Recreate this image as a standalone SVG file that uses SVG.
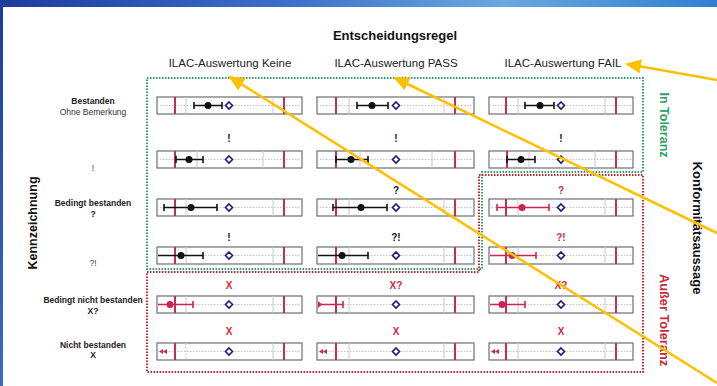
<svg xmlns="http://www.w3.org/2000/svg" width="717" height="386" viewBox="0 0 717 386">
<style>
text{font-family:"Liberation Sans",Arial,sans-serif;}
.title{font-size:13px;font-weight:bold;fill:#111;text-anchor:middle;}
.hdr{font-size:11.5px;fill:#222;text-anchor:middle;}
.rl{font-size:8.5px;font-weight:bold;fill:#222;text-anchor:middle;}
.rln{font-size:8.5px;fill:#333;text-anchor:middle;}
.cl{font-size:10px;font-weight:bold;fill:#111;text-anchor:middle;}
.clr{font-size:10px;font-weight:bold;fill:#d42a3a;text-anchor:middle;}
.cell{fill:#fff;stroke:#6e6e6e;stroke-width:1.2;}
.mid{stroke:#b4b4b4;stroke-width:0.8;stroke-dasharray:1.5 1.5;}
.gv{stroke:#c8c8c8;stroke-width:1;}
.lim{stroke:#c42e55;stroke-width:2;}
.bar{stroke:#111;stroke-width:1.6;fill:none;}
.barr{stroke:#d0234d;stroke-width:1.6;fill:none;}
.dot{fill:#111;}
.dotr{fill:#d0234d;}
.dia{fill:#fff;stroke:#1c1c80;stroke-width:1.6;}
.arr{stroke:#ffc000;stroke-width:2.5;fill:none;}
</style>
<defs>
<linearGradient id="bg" x1="0" y1="0" x2="1" y2="0">
<stop offset="0" stop-color="#1d3c9c"/>
<stop offset="0.4" stop-color="#3d6fc8"/>
<stop offset="0.7" stop-color="#6aa8e0"/>
<stop offset="1" stop-color="#2f7fd0"/>
</linearGradient>
<linearGradient id="lg" x1="0" y1="0" x2="0" y2="1">
<stop offset="0" stop-color="#1d3c9c"/>
<stop offset="1" stop-color="#3b6bc4"/>
</linearGradient>
<marker id="ah" viewBox="0 0 16 14" refX="14" refY="7" markerWidth="16" markerHeight="14" markerUnits="userSpaceOnUse" orient="auto"><path d="M0,0 L16,7 L0,14 Z" fill="#ffc000"/></marker>
</defs>
<rect x="0" y="0" width="717" height="386" fill="#fff"/>
<rect x="0" y="0" width="717" height="7" fill="url(#bg)"/>
<rect x="0" y="0" width="3" height="386" fill="url(#lg)"/>

<g id="header">
<text class="title" x="395" y="40">Entscheidungsregel</text>
<text class="hdr" x="230" y="67">ILAC-Auswertung Keine</text>
<text class="hdr" x="396" y="67">ILAC-Auswertung PASS</text>
<text class="hdr" x="563" y="67">ILAC-Auswertung FAIL</text>
</g>

<g id="side-labels">
<text x="0" y="0" transform="translate(37,223) rotate(-90)" style="font-size:12.5px;font-weight:bold;fill:#111;text-anchor:middle">Kennzeichnung</text>
<text x="0" y="0" transform="translate(660,125) rotate(90)" style="font-size:12.5px;font-weight:bold;fill:#2e9e62;text-anchor:middle">In Toleranz</text>
<text x="0" y="0" transform="translate(660,320) rotate(90)" style="font-size:12.8px;font-weight:bold;fill:#c8283a;text-anchor:middle">Außer Toleranz</text>
<text x="0" y="0" transform="translate(693,228) rotate(90)" style="font-size:13px;font-weight:bold;fill:#111;text-anchor:middle">Konformitätsaussage</text>
</g>

<g id="row-labels">
<text class="rl" x="93" y="104">Bestanden</text>
<text class="rln" x="93" y="115">Ohne Bemerkung</text>
<text class="rln" x="93" y="171">!</text>
<text class="rl" x="93" y="206">Bedingt bestanden</text>
<text class="rl" x="93" y="217">?</text>
<text class="rln" x="93" y="266">?!</text>
<text class="rl" x="93" y="303">Bedingt nicht bestanden</text>
<text class="rl" x="93" y="314">X?</text>
<text class="rl" x="93" y="348">Nicht bestanden</text>
<text class="rl" x="93" y="358">X</text>
</g>

<g id="zones">
<path d="M147,78 H643 V172 H482 V269 H147 Z" fill="none" stroke="#2e9e6b" stroke-width="2" stroke-dasharray="1.5 1.5"/>
<path d="M147,272 H479 V175 H643 V372 H147 Z" fill="none" stroke="#c0282d" stroke-width="2" stroke-dasharray="1.5 1.5"/>
</g>

<!-- Row 1 -->
<g id="r1-keine">
<rect class="cell" x="157" y="97" width="145" height="17"/>
<line class="mid" x1="157" y1="105.5" x2="302" y2="105.5"/>
<line class="gv" x1="186" y1="97" x2="186" y2="114"/><line class="gv" x1="273" y1="97" x2="273" y2="114"/>
<line class="lim" x1="175" y1="97" x2="175" y2="114"/><line class="lim" x1="284" y1="97" x2="284" y2="114"/>
<path class="bar" d="M194,105.5 H222 M194,102 V109 M222,102 V109"/><circle class="dot" cx="208" cy="105.5" r="3.5"/>
<path class="dia" d="M229,102 L232.5,105.5 L229,109 L225.5,105.5 Z"/>
</g>
<g id="r1-pass">
<rect class="cell" x="317" y="97" width="157" height="17"/>
<line class="mid" x1="317" y1="105.5" x2="474" y2="105.5"/>
<line class="gv" x1="349" y1="97" x2="349" y2="114"/><line class="gv" x1="444" y1="97" x2="444" y2="114"/>
<line class="lim" x1="336" y1="97" x2="336" y2="114"/><line class="lim" x1="455" y1="97" x2="455" y2="114"/>
<path class="bar" d="M357,105.5 H388 M357,102 V109 M388,102 V109"/><circle class="dot" cx="372" cy="105.5" r="3.5"/>
<path class="dia" d="M396,102 L399.5,105.5 L396,109 L392.5,105.5 Z"/>
</g>
<g id="r1-fail">
<rect class="cell" x="489" y="97" width="144" height="17"/>
<line class="mid" x1="489" y1="105.5" x2="633" y2="105.5"/>
<line class="gv" x1="518" y1="97" x2="518" y2="114"/><line class="gv" x1="605" y1="97" x2="605" y2="114"/>
<line class="lim" x1="506" y1="97" x2="506" y2="114"/><line class="lim" x1="616" y1="97" x2="616" y2="114"/>
<path class="bar" d="M525,105.5 H554 M525,102 V109 M554,102 V109"/><circle class="dot" cx="540" cy="105.5" r="3.5"/>
<path class="dia" d="M561,102 L564.5,105.5 L561,109 L557.5,105.5 Z"/>
</g>

<!-- Row 2 -->
<g id="r2-keine">
<text class="cl" x="229" y="142">!</text>
<rect class="cell" x="157" y="151" width="145" height="17"/>
<line class="mid" x1="157" y1="159.5" x2="302" y2="159.5"/>
<line class="gv" x1="197" y1="151" x2="197" y2="168"/><line class="gv" x1="263" y1="151" x2="263" y2="168"/>
<line class="lim" x1="175" y1="151" x2="175" y2="168"/><line class="lim" x1="284" y1="151" x2="284" y2="168"/>
<path class="bar" d="M176,159.5 H203 M176,156 V163 M203,156 V163"/><circle class="dot" cx="189" cy="159.5" r="3.5"/>
<path class="dia" d="M229,156 L232.5,159.5 L229,163 L225.5,159.5 Z"/>
</g>
<g id="r2-pass">
<text class="cl" x="396" y="142">!</text>
<rect class="cell" x="317" y="151" width="157" height="17"/>
<line class="mid" x1="317" y1="159.5" x2="474" y2="159.5"/>
<line class="gv" x1="360" y1="151" x2="360" y2="168"/><line class="gv" x1="432" y1="151" x2="432" y2="168"/>
<line class="lim" x1="336" y1="151" x2="336" y2="168"/><line class="lim" x1="455" y1="151" x2="455" y2="168"/>
<path class="bar" d="M336,159.5 H368 M336,156 V163 M368,156 V163"/><circle class="dot" cx="351" cy="159.5" r="3.5"/>
<path class="dia" d="M396,156 L399.5,159.5 L396,163 L392.5,159.5 Z"/>
</g>
<g id="r2-fail">
<text class="cl" x="561" y="142">!</text>
<rect class="cell" x="489" y="151" width="144" height="17"/>
<line class="mid" x1="489" y1="159.5" x2="633" y2="159.5"/>
<line class="gv" x1="529" y1="151" x2="529" y2="168"/><line class="gv" x1="595" y1="151" x2="595" y2="168"/>
<line class="lim" x1="507" y1="151" x2="507" y2="168"/><line class="lim" x1="616" y1="151" x2="616" y2="168"/>
<path class="bar" d="M507,159.5 H535 M507,156 V163 M535,156 V163"/><circle class="dot" cx="521" cy="159.5" r="3.5"/>
<path class="dia" d="M561,156 L564.5,159.5 L561,163 L557.5,159.5 Z"/>
</g>

<!-- Row 3 -->
<g id="r3-keine">
<rect class="cell" x="157" y="199" width="145" height="17"/>
<line class="mid" x1="157" y1="207.5" x2="302" y2="207.5"/>
<line class="gv" x1="186" y1="199" x2="186" y2="216"/><line class="gv" x1="273" y1="199" x2="273" y2="216"/>
<line class="lim" x1="175" y1="199" x2="175" y2="216"/><line class="lim" x1="284" y1="199" x2="284" y2="216"/>
<path class="bar" d="M164,207.5 H217 M164,204 V211 M217,204 V211"/><circle class="dot" cx="191" cy="207.5" r="3.5"/>
<path class="dia" d="M229,204 L232.5,207.5 L229,211 L225.5,207.5 Z"/>
</g>
<g id="r3-pass">
<text class="cl" x="396" y="194">?</text>
<rect class="cell" x="317" y="199" width="157" height="17"/>
<line class="mid" x1="317" y1="207.5" x2="474" y2="207.5"/>
<line class="gv" x1="349" y1="199" x2="349" y2="216"/><line class="gv" x1="444" y1="199" x2="444" y2="216"/>
<line class="lim" x1="336" y1="199" x2="336" y2="216"/><line class="lim" x1="455" y1="199" x2="455" y2="216"/>
<path class="bar" d="M333,207.5 H387 M333,204 V211 M387,204 V211"/><circle class="dot" cx="361" cy="207.5" r="3.5"/>
<path class="dia" d="M396,204 L399.5,207.5 L396,211 L392.5,207.5 Z"/>
</g>
<g id="r3-fail">
<text class="clr" x="561" y="194">?</text>
<rect class="cell" x="489" y="199" width="144" height="17"/>
<line class="mid" x1="489" y1="207.5" x2="633" y2="207.5"/>
<line class="gv" x1="518" y1="199" x2="518" y2="216"/><line class="gv" x1="605" y1="199" x2="605" y2="216"/>
<line class="lim" x1="506" y1="199" x2="506" y2="216"/><line class="lim" x1="616" y1="199" x2="616" y2="216"/>
<path class="barr" d="M497,207.5 H549 M497,204 V211 M549,204 V211"/><circle class="dotr" cx="522" cy="207.5" r="3.5"/>
<path class="dia" d="M561,204 L564.5,207.5 L561,211 L557.5,207.5 Z"/>
</g>

<!-- Row 4 -->
<g id="r4-keine">
<text class="cl" x="229" y="241">!</text>
<rect class="cell" x="157" y="247" width="145" height="17"/>
<line class="mid" x1="157" y1="255.5" x2="302" y2="255.5"/>
<line class="gv" x1="186" y1="247" x2="186" y2="264"/><line class="gv" x1="273" y1="247" x2="273" y2="264"/>
<line class="lim" x1="175" y1="247" x2="175" y2="264"/><line class="lim" x1="284" y1="247" x2="284" y2="264"/>
<path class="bar" d="M158,255.5 H203 M203,252 V259"/><circle class="dot" cx="181" cy="255.5" r="3.5"/>
<path class="dia" d="M229,252 L232.5,255.5 L229,259 L225.5,255.5 Z"/>
</g>
<g id="r4-pass">
<text class="cl" x="396" y="241">?!</text>
<rect class="cell" x="317" y="247" width="157" height="17"/>
<line class="mid" x1="317" y1="255.5" x2="474" y2="255.5"/>
<line class="gv" x1="349" y1="247" x2="349" y2="264"/><line class="gv" x1="444" y1="247" x2="444" y2="264"/>
<line class="lim" x1="336" y1="247" x2="336" y2="264"/><line class="lim" x1="455" y1="247" x2="455" y2="264"/>
<path class="bar" d="M318,255.5 H368 M368,252 V259"/><circle class="dot" cx="342" cy="255.5" r="3.5"/>
<path class="dia" d="M396,252 L399.5,255.5 L396,259 L392.5,255.5 Z"/>
</g>
<g id="r4-fail">
<text class="clr" x="561" y="241">?!</text>
<rect class="cell" x="489" y="247" width="144" height="17"/>
<line class="mid" x1="489" y1="255.5" x2="633" y2="255.5"/>
<line class="gv" x1="518" y1="247" x2="518" y2="264"/><line class="gv" x1="605" y1="247" x2="605" y2="264"/>
<line class="lim" x1="506" y1="247" x2="506" y2="264"/><line class="lim" x1="616" y1="247" x2="616" y2="264"/>
<path class="barr" d="M490,255.5 H536 M536,252 V259"/><circle class="dotr" cx="512" cy="255.5" r="3.5"/>
<path class="dia" d="M561,252 L564.5,255.5 L561,259 L557.5,255.5 Z"/>
</g>

<!-- Row 5 -->
<g id="r5-keine">
<text class="clr" x="229" y="289">X</text>
<rect class="cell" x="157" y="296" width="145" height="17"/>
<line class="mid" x1="157" y1="304.5" x2="302" y2="304.5"/>
<line class="gv" x1="186" y1="296" x2="186" y2="313"/><line class="gv" x1="273" y1="296" x2="273" y2="313"/>
<line class="lim" x1="175" y1="296" x2="175" y2="313"/><line class="lim" x1="284" y1="296" x2="284" y2="313"/>
<path class="barr" d="M158,304.5 H193 M193,301 V308"/><circle class="dotr" cx="170" cy="304.5" r="3.5"/>
<path class="dia" d="M229,301 L232.5,304.5 L229,308 L225.5,304.5 Z"/>
</g>
<g id="r5-pass">
<text class="clr" x="396" y="289">X?</text>
<rect class="cell" x="317" y="296" width="157" height="17"/>
<line class="mid" x1="317" y1="304.5" x2="474" y2="304.5"/>
<line class="gv" x1="349" y1="296" x2="349" y2="313"/><line class="gv" x1="444" y1="296" x2="444" y2="313"/>
<line class="lim" x1="336" y1="296" x2="336" y2="313"/><line class="lim" x1="455" y1="296" x2="455" y2="313"/>
<path class="barr" d="M318,304.5 H343 M343,301 V308"/><path class="dotr" d="M318,301 L322,304.5 L318,308 Z"/>
<path class="dia" d="M396,301 L399.5,304.5 L396,308 L392.5,304.5 Z"/>
</g>
<g id="r5-fail">
<text class="clr" x="561" y="289">X?</text>
<rect class="cell" x="489" y="296" width="144" height="17"/>
<line class="mid" x1="489" y1="304.5" x2="633" y2="304.5"/>
<line class="gv" x1="518" y1="296" x2="518" y2="313"/><line class="gv" x1="605" y1="296" x2="605" y2="313"/>
<line class="lim" x1="506" y1="296" x2="506" y2="313"/><line class="lim" x1="616" y1="296" x2="616" y2="313"/>
<path class="barr" d="M490,304.5 H525 M525,301 V308"/><circle class="dotr" cx="502" cy="304.5" r="3.5"/>
<path class="dia" d="M561,301 L564.5,304.5 L561,308 L557.5,304.5 Z"/>
</g>

<!-- Row 6 -->
<g id="r6-keine">
<text class="clr" x="229" y="335">X</text>
<rect class="cell" x="157" y="343" width="145" height="17"/>
<line class="mid" x1="157" y1="351.5" x2="302" y2="351.5"/>
<line class="gv" x1="186" y1="343" x2="186" y2="360" stroke-dasharray="2 1.5"/><line class="gv" x1="273" y1="343" x2="273" y2="360"/>
<line class="lim" x1="175" y1="343" x2="175" y2="360"/><line class="lim" x1="284" y1="343" x2="284" y2="360"/>
<path class="dotr" d="M159,351.5 L163,349 L163,354 Z M163,351.5 L167,349 L167,354 Z"/>
<path class="dia" d="M229,348 L232.5,351.5 L229,355 L225.5,351.5 Z"/>
</g>
<g id="r6-pass">
<text class="clr" x="396" y="335">X</text>
<rect class="cell" x="317" y="343" width="157" height="17"/>
<line class="mid" x1="317" y1="351.5" x2="474" y2="351.5"/>
<line class="gv" x1="349" y1="343" x2="349" y2="360"/><line class="gv" x1="444" y1="343" x2="444" y2="360"/>
<line class="lim" x1="336" y1="343" x2="336" y2="360"/><line class="lim" x1="455" y1="343" x2="455" y2="360"/>
<path class="dotr" d="M319,351.5 L323,349 L323,354 Z M323,351.5 L327,349 L327,354 Z"/>
<path class="dia" d="M396,348 L399.5,351.5 L396,355 L392.5,351.5 Z"/>
</g>
<g id="r6-fail">
<text class="clr" x="561" y="335">X</text>
<rect class="cell" x="489" y="343" width="144" height="17"/>
<line class="mid" x1="489" y1="351.5" x2="633" y2="351.5"/>
<line class="gv" x1="518" y1="343" x2="518" y2="360"/><line class="gv" x1="605" y1="343" x2="605" y2="360"/>
<line class="lim" x1="506" y1="343" x2="506" y2="360"/><line class="lim" x1="616" y1="343" x2="616" y2="360"/>
<path class="dotr" d="M491,351.5 L495,349 L495,354 Z M495,351.5 L499,349 L499,354 Z"/>
<path class="dia" d="M561,348 L564.5,351.5 L561,355 L557.5,351.5 Z"/>
</g>

<g id="connectors">
<line class="arr" x1="717" y1="383" x2="230" y2="77" marker-end="url(#ah)"/>
<line class="arr" x1="717" y1="233" x2="395" y2="78" marker-end="url(#ah)"/>
<line class="arr" x1="717" y1="80" x2="627" y2="64" marker-end="url(#ah)"/>
</g>
</svg>
